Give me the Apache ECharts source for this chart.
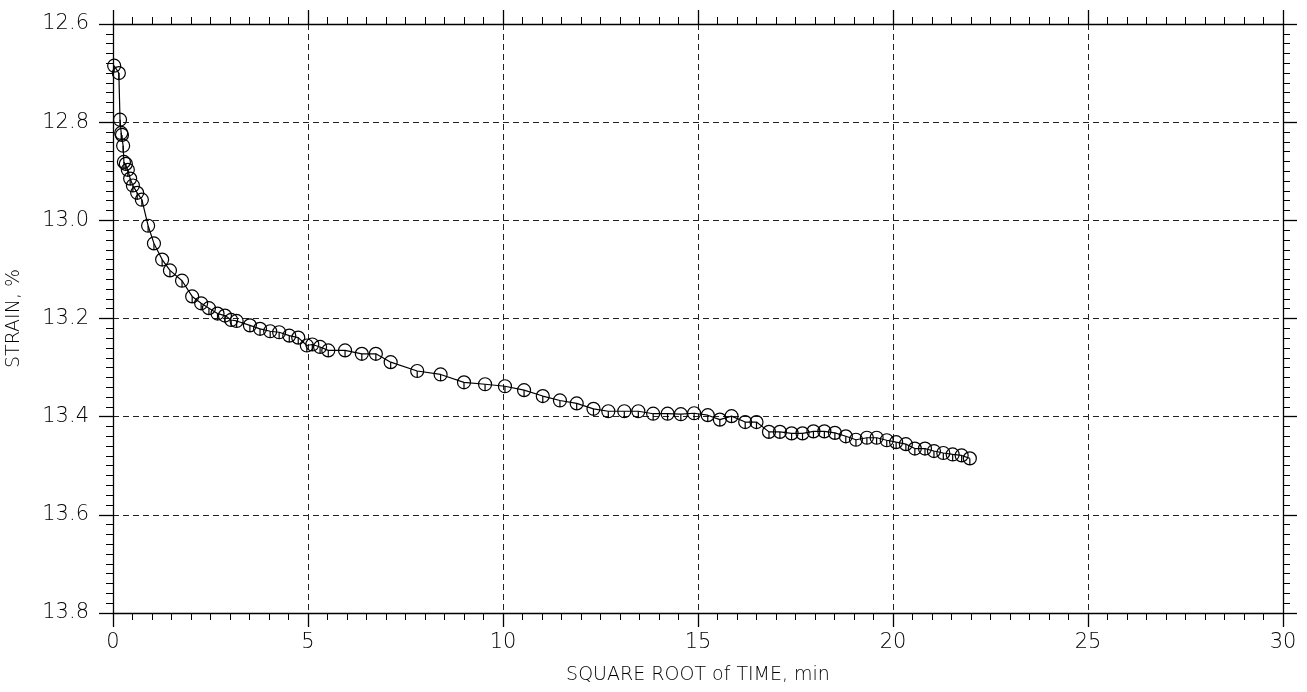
<!DOCTYPE html>
<html lang="en">
<head>
  <meta charset="UTF-8">
  <title>Strain vs square root of time</title>
  <style>
    body {
      margin: 0;
      padding: 0;
      background: #fff;
    }
  </style>
</head>
<body>
  <div id="main" style="width: 1307px; height: 692px;"></div>
</body>
</html>
<script src="https://cdnjs.cloudflare.com/ajax/libs/echarts/6.0.0/echarts.min.js"></script>
<script>

// readings taken off the plot
var sqrtTime = [0.03, 0.15, 0.18, 0.21, 0.23, 0.26, 0.28, 0.33, 0.38, 0.44, 0.51, 0.62, 0.74, 0.90, 1.05, 1.26, 1.46, 1.77,
  2.03, 2.26, 2.46, 2.68, 2.87, 3.03, 3.17, 3.51, 3.77, 4.03, 4.26, 4.52, 4.75, 4.97, 5.11, 5.31, 5.52, 5.95, 6.38, 6.74,
  7.12, 7.80, 8.40, 9.00, 9.54, 10.05, 10.54, 11.02, 11.46,
  11.89, 12.32, 12.70, 13.11, 13.47, 13.85, 14.22, 14.56, 14.90, 15.25, 15.56, 15.86, 16.21, 16.50, 16.82,
  17.10, 17.40, 17.68, 17.96, 18.24, 18.51, 18.79, 19.05, 19.33, 19.58, 19.84, 20.08, 20.33, 20.56, 20.82, 21.05, 21.29, 21.53, 21.76, 21.97]
var strain = [12.685, 12.700, 12.795, 12.822, 12.826, 12.848, 12.881, 12.885, 12.897, 12.915, 12.929, 12.944, 12.958, 13.011, 13.047, 13.080, 13.102, 13.123,
  13.155, 13.169, 13.179, 13.190, 13.194, 13.203, 13.205, 13.214, 13.221, 13.226, 13.228, 13.235, 13.239, 13.255, 13.253, 13.258, 13.265, 13.265, 13.272, 13.272,
  13.289, 13.307, 13.314, 13.330, 13.334, 13.338, 13.346, 13.358, 13.367,
  13.373, 13.384, 13.389, 13.389, 13.389, 13.394, 13.394, 13.395, 13.393, 13.397, 13.406, 13.399, 13.411, 13.411, 13.431,
  13.431, 13.434, 13.434, 13.430, 13.430, 13.433, 13.440, 13.447, 13.443, 13.443, 13.448, 13.452, 13.456, 13.465, 13.465, 13.470, 13.474, 13.477, 13.479, 13.485]

var xName = 'SQUARE ROOT of TIME, min'
var yName = 'STRAIN, %'

;(function() {
  var chart = echarts.init(document.getElementById('main'))

  var points = sqrtTime.map(function(t, i) {
    return [t, strain[i]]
  })

  var font = 'DejaVu Sans'
  var lineStyle = { color: '#000', width: 1.3 }
  var gridDash = { color: '#222', width: 1, type: [6, 4] }

  // circle with a short stroke from the centre down
  var marker = 'path://M0,10 A10,10 0 1,1 20,10 A10,10 0 1,1 0,10 Z M10,10 L10,20'

  function axisBase(extra) {
    var base = {
      type: 'value',
      axisLine: { show: true, onZero: false, lineStyle: lineStyle },
      axisTick: { show: true, inside: false, length: 14, lineStyle: lineStyle },
      minorTick: { show: true, splitNumber: 10, length: 7, lineStyle: { color: '#000', width: 1 } },
      splitLine: { show: false },
      axisLabel: { show: false }
    }
    return Object.assign(base, extra)
  }

  var option = {
    animation: false,
    backgroundColor: '#fff',
    grid: { left: 113, right: 24, top: 24, bottom: 79, containLabel: false, outerBoundsMode: 'none' },
    xAxis: [
      axisBase({
        min: 0, max: 30, interval: 5,
        position: 'bottom',
        splitLine: { show: true, lineStyle: gridDash },
        axisLabel: { show: true, margin: 19, fontSize: 21, color: '#000', fontFamily: font, fontWeight: 200 },
        name: xName,
        nameLocation: 'middle',
        nameGap: 53,
        nameTextStyle: { fontSize: 19, color: '#000', fontFamily: font, fontWeight: 200 }
      }),
      axisBase({ min: 0, max: 30, interval: 5, position: 'top' })
    ],
    yAxis: [
      axisBase({
        min: 12.6, max: 13.8, interval: 0.2,
        inverse: true,
        position: 'left',
        splitLine: { show: true, lineStyle: gridDash },
        axisLabel: {
          show: true, margin: 24, fontSize: 21, color: '#000', fontFamily: font, fontWeight: 200,
          formatter: function(v) { return v.toFixed(1) }
        },
        name: yName,
        nameLocation: 'middle',
        nameGap: 89,
        nameTextStyle: { fontSize: 19, color: '#000', fontFamily: font, fontWeight: 200 }
      }),
      axisBase({ min: 12.6, max: 13.8, interval: 0.2, inverse: true, position: 'right' })
    ],
    series: [
      {
        type: 'line',
        data: points,
        symbol: marker,
        symbolSize: 13,
        showAllSymbol: true,
        lineStyle: { color: '#000', width: 1.2 },
        itemStyle: { color: 'transparent', borderColor: '#000', borderWidth: 1.2 }
      }
    ]
  }
  chart.setOption(option)
})()

</script>
